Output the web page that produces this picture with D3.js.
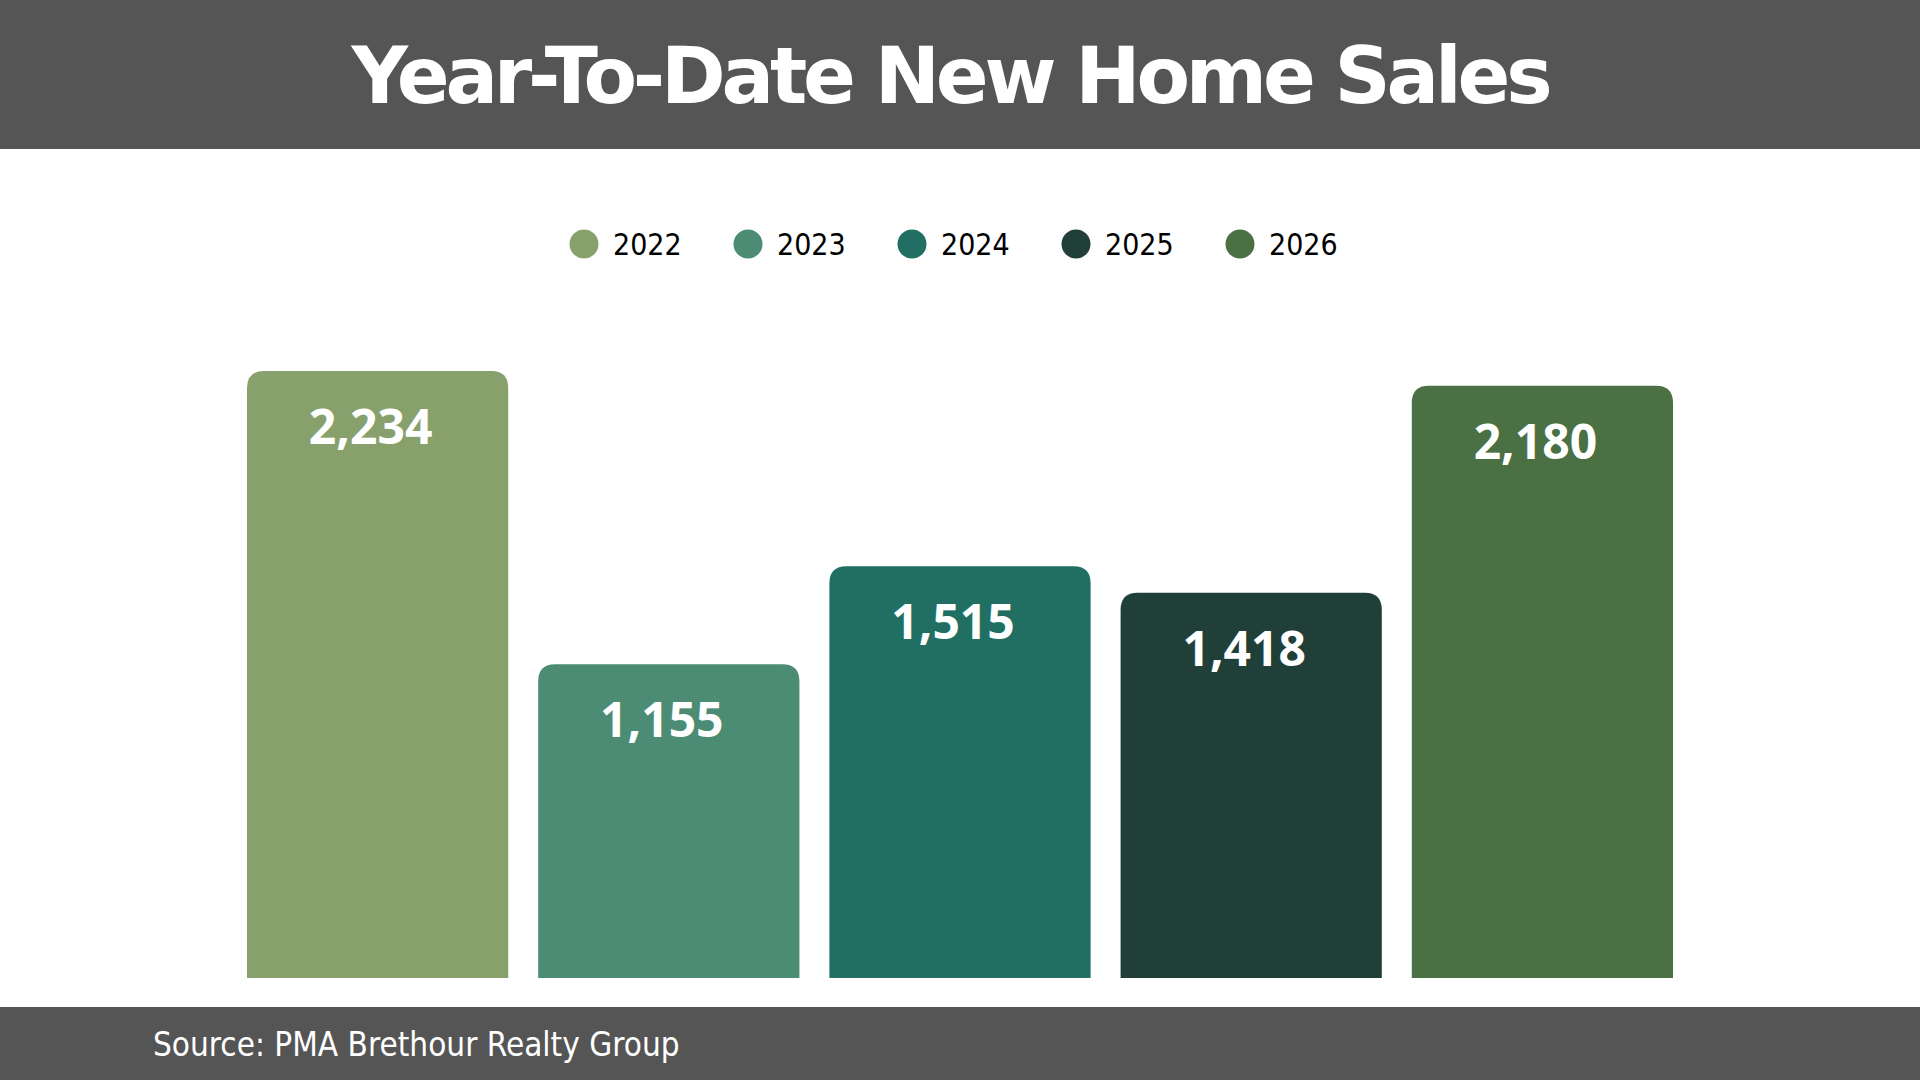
<!DOCTYPE html>
<html>
<head>
<meta charset="utf-8">
<script src="https://cdn.jsdelivr.net/npm/d3@7"></script>
<style>
    html, body { margin: 0; padding: 0; background: #ffffff; }
    #chart { width: 1920px; height: 1080px; }
</style>
</head>
<body>
<div id="chart"></div>
<script>
// Year-to-date new home sales, one bar per year
const years = ["2022", "2023", "2024", "2025", "2026"];
const sales = [2234, 1155, 1515, 1418, 2180];
const colors = ["#88a16c", "#4c8c74", "#206f62", "#203f38", "#4a7043"];
const yDomain = [0, 2500];

const W = 1920, H = 1080;
const condensed = "'DejaVu Sans Condensed', 'DejaVu Sans', sans-serif";

const svg = d3.select("#chart")
    .append("svg")
    .attr("width", W)
    .attr("height", H);

// Title band
svg.append("rect")
    .attr("x", 0).attr("y", 0)
    .attr("width", W).attr("height", 149)
    .attr("fill", "#555555");

svg.append("text")
    .attr("x", W / 2 - 10)
    .attr("y", 103)
    .attr("text-anchor", "middle")
    .attr("fill", "#ffffff")
    .attr("font-family", "'DejaVu Sans', Verdana, sans-serif")
    .attr("font-weight", "bold")
    .attr("font-size", "78px")
    .attr("letter-spacing", "-4.2px")
    .text("Year-To-Date New Home Sales");

// Footer band
svg.append("rect")
    .attr("x", 0).attr("y", 1007)
    .attr("width", W).attr("height", H - 1007)
    .attr("fill", "#555555");

svg.append("text")
    .attr("x", 153)
    .attr("y", 1056)
    .attr("fill", "#ffffff")
    .attr("font-family", condensed)
    .attr("font-stretch", "condensed")
    .attr("font-size", "33px")
    .text("Source: PMA Brethour Realty Group");

// Legend
const legend = svg.append("g")
    .selectAll("g")
    .data(years)
    .join("g")
    .attr("transform", (d, i) => `translate(${584 + i * 164},244)`);

legend.append("circle")
    .attr("r", 14.5)
    .attr("fill", (d, i) => colors[i]);

legend.append("text")
    .attr("x", 29)
    .attr("dy", "0.36em")
    .attr("fill", "#000000")
    .attr("font-family", condensed)
    .attr("font-stretch", "condensed")
    .attr("font-size", "30px")
    .text(d => d);

// Scales
const x = d3.scaleBand()
    .domain(years)
    .range([232, 1688])
    .paddingInner(0.103)
    .paddingOuter(0.0515);

const y = d3.scaleLinear()
    .domain(yDomain)
    .range([978, 978 - 0.27171 * yDomain[1]]);

// Bars with rounded top corners
const r = 17;
function topRounded(x0, y0, w, h) {
    const rr = Math.min(r, h, w / 2);
    return `M${x0},${y0 + h}` +
        `V${y0 + rr}` +
        `Q${x0},${y0} ${x0 + rr},${y0}` +
        `H${x0 + w - rr}` +
        `Q${x0 + w},${y0} ${x0 + w},${y0 + rr}` +
        `V${y0 + h}Z`;
}

const data = years.map((yr, i) => ({ year: yr, value: sales[i], color: colors[i] }));

svg.append("g")
    .selectAll("path")
    .data(data)
    .join("path")
    .attr("d", d => topRounded(x(d.year), y(d.value), x.bandwidth(), y(0) - y(d.value)))
    .attr("fill", d => d.color);

// Value labels
svg.append("g")
    .selectAll("text")
    .data(data)
    .join("text")
    .attr("x", d => x(d.year) + x.bandwidth() / 2 - 7)
    .attr("y", d => y(d.value) + 73)
    .attr("text-anchor", "middle")
    .attr("fill", "#ffffff")
    .attr("font-family", "'Open Sans', sans-serif")
    .attr("font-weight", "bold")
    .attr("font-size", "48px")
    .text(d => d3.format(",")(d.value));
</script>
</body>
</html>
